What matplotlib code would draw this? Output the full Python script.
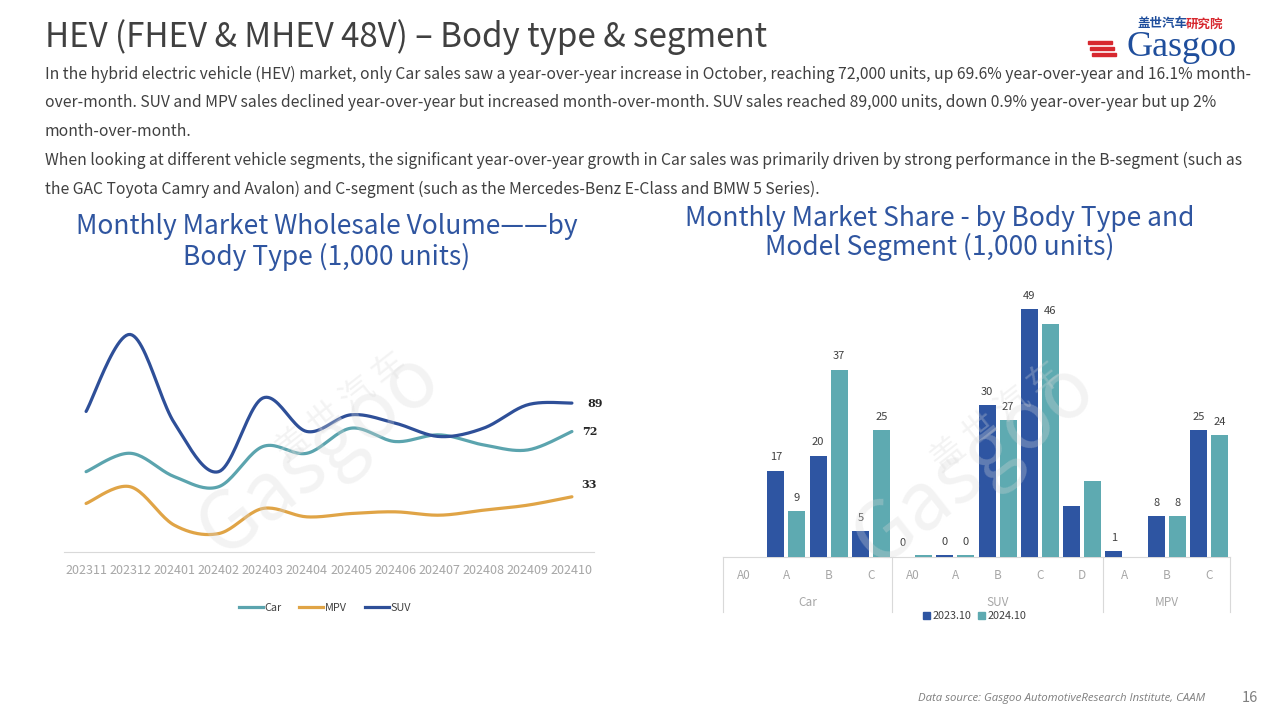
import numpy as np
import matplotlib
matplotlib.use('Agg')
import matplotlib.pyplot as plt
from matplotlib.lines import Line2D
from matplotlib.patches import Patch, Rectangle

plt.rcParams['font.family'] = ['Noto Sans CJK SC', 'DejaVu Sans']

# ---------------- data ----------------
months = ['202311', '202312', '202401', '202402', '202403', '202404',
          '202405', '202406', '202407', '202408', '202409', '202410']
car = [48, 59, 45, 39, 63, 59, 74, 66, 70, 64, 61, 72]
mpv = [29, 39, 16, 11, 26, 21, 23, 24, 22, 25, 28, 33]
suv = [84, 130, 77, 48, 92, 72, 82, 77, 69, 74, 88, 89]

segments = ['A0', 'A', 'B', 'C', 'A0', 'A', 'B', 'C', 'D', 'A', 'B', 'C']
groups = ['Car', 'SUV', 'MPV']
group_sizes = [4, 5, 3]
vol_2023 = [np.nan, 17, 20, 5, 0, 0.3, 30, 49, 10, 1, 8, 25]
vol_2024 = [np.nan, 9, 37, 25, 0.3, 0.3, 27, 46, 15, np.nan, 8, 24]
labels_2023 = ['', '17', '20', '5', '0', '0', '30', '49', '', '1', '8', '25']
labels_2024 = ['', '9', '37', '25', '', '0', '27', '46', '', '', '8', '24']

# ---------------- styles ----------------
C_CAR = '#5BA4AE'
C_MPV = '#E0A446'
C_SUV = '#2E4F98'
C_23 = '#2E55A2'
C_24 = '#5EAAB1'
TITLE_BLUE = '#2F55A0'
GREY_TXT = '#A6A6A6'
DARK = '#404040'

W, H = 1280, 720
fig = plt.figure(figsize=(12.8, 7.2), dpi=100)


def fx(px):
    return px / W


def fy(py):
    return 1 - py / H


# ---------------- header ----------------
fig.text(fx(45), fy(37), 'HEV (FHEV & MHEV 48V) \u2013 Body type & segment',
         fontsize=23.8, color=DARK, va='center', ha='left')

body = [
    'In the hybrid electric vehicle (HEV) market, only Car sales saw a year-over-year increase in October, reaching 72,000 units, up 69.6% year-over-year and 16.1% month-',
    'over-month. SUV and MPV sales declined year-over-year but increased month-over-month. SUV sales reached 89,000 units, down 0.9% year-over-year but up 2%',
    'month-over-month.',
    'When looking at different vehicle segments, the significant year-over-year growth in Car sales was primarily driven by strong performance in the B-segment (such as',
    'the GAC Toyota Camry and Avalon) and C-segment (such as the Mercedes-Benz E-Class and BMW 5 Series).',
]
for i, line in enumerate(body):
    fig.text(fx(45), fy(74 + i * 28.9), line, fontsize=11.3, color=DARK,
             va='center', ha='left')

# logo
fig.text(fx(1138), fy(24), '盖世汽车', fontsize=9, color='#1F4E9C',
         fontweight='bold', va='center', ha='left')
fig.text(fx(1186), fy(24), '研究院', fontsize=9, color='#D7282F',
         fontweight='bold', va='center', ha='left')
fig.text(fx(1237), fy(47), 'Gasgoo', fontsize=26, color='#1F4E9C',
         family='Liberation Serif', va='center', ha='right')
for k in range(3):
    fig.patches.append(Rectangle((fx(1088 + k * 2), fy(44 + k * 6)), fx(24), 3.5 / H,
                                 transform=fig.transFigure, color='#D7282F'))

# footer
fig.text(fx(1205), fy(698), 'Data source: Gasgoo AutomotiveResearch Institute, CAAM',
         fontsize=8.2, color='#7F7F7F', style='italic', family='Open Sans',
         va='center', ha='right')
fig.text(fx(1250), fy(698), '16', fontsize=10.5, color='#7F7F7F',
         va='center', ha='center')

# chart titles
fig.text(fx(327), fy(242), 'Monthly Market Wholesale Volume\u2014\u2014by\nBody Type (1,000 units)',
         fontsize=19, color=TITLE_BLUE, ha='center', va='center', linespacing=1.12)
fig.text(fx(940), fy(233), 'Monthly Market Share - by Body Type and\nModel Segment (1,000 units)',
         fontsize=19, color=TITLE_BLUE, ha='center', va='center', linespacing=1.08)

# watermarks
for cx, cy in [(320, 455), (975, 465)]:
    fig.text(fx(cx), fy(cy), 'Gasgoo', fontsize=58, color='#D9D9D9', alpha=0.3,
             rotation=38, ha='center', va='center', zorder=0)
    fig.text(fx(cx + 22), fy(cy - 48), '盖 世 汽 车', fontsize=24, color='#D9D9D9', alpha=0.3,
             rotation=38, ha='center', va='center', zorder=0)


# ---------------- left chart ----------------
def smooth(x, y, n=24):
    pts = np.column_stack([x, y]).astype(float)
    out = []
    for i in range(len(pts) - 1):
        p0 = pts[max(i - 1, 0)]
        p1 = pts[i]
        p2 = pts[i + 1]
        p3 = pts[min(i + 2, len(pts) - 1)]
        c1 = p1 + (p2 - p0) / 6
        c2 = p2 - (p3 - p1) / 6
        t = np.linspace(0, 1, n)[:, None]
        seg = (1 - t) ** 3 * p1 + 3 * (1 - t) ** 2 * t * c1 + 3 * (1 - t) * t ** 2 * c2 + t ** 3 * p2
        out.append(seg if i == 0 else seg[1:])
    return np.vstack(out)


ax1 = fig.add_axes([fx(64), fy(552), fx(530), (552 - 301) / H])
ax1.patch.set_alpha(0)
xs = np.arange(len(months))
series = [('Car', car, C_CAR, (7, 0)), ('MPV', mpv, C_MPV, (7, 9)), ('SUV', suv, C_SUV, (11, 0))]
for name, vals, col, off in series:
    c = smooth(xs, vals)
    ax1.plot(c[:, 0], c[:, 1], color=col, lw=2.3, solid_capstyle='round', zorder=3)
    ax1.annotate(f'{vals[-1]:.0f}', (xs[-1], vals[-1]), xytext=off,
                 textcoords='offset points', ha='left', va='center',
                 fontsize=8, fontweight='bold', color='#262626', family='DejaVu Serif')
ax1.set_xlim(-0.5, len(months) - 0.5)
ax1.set_ylim(0, 150)
ax1.set_yticks([])
ax1.set_xticks(xs)
ax1.set_xticklabels(months, fontsize=9, color=GREY_TXT)
ax1.tick_params(axis='x', length=0, pad=9)
for s in ['top', 'right', 'left']:
    ax1.spines[s].set_visible(False)
ax1.spines['bottom'].set_color('#D9D9D9')

handles1 = [Line2D([0], [0], color=col, lw=2.3) for _, _, col, _ in series]
fig.legend(handles1, [s[0] for s in series], loc='center', bbox_to_anchor=(fx(325), fy(608)),
           ncol=3, frameon=False, fontsize=7.8, handlelength=2.2, columnspacing=1.6,
           handletextpad=0.2, labelcolor=DARK)

# ---------------- right chart ----------------
ax2 = fig.add_axes([fx(723), fy(556.5), fx(507), (556.5 - 290) / H])
ax2.patch.set_alpha(0)
pos = np.arange(len(segments))
bw = 0.40
off = 0.248
ax2.bar(pos - off, vol_2023, bw, color=C_23, zorder=3)
ax2.bar(pos + off, vol_2024, bw, color=C_24, zorder=3)
for i in range(len(segments)):
    for dx, v, lab in [(-off, vol_2023[i], labels_2023[i]), (off, vol_2024[i], labels_2024[i])]:
        if lab:
            ax2.annotate(lab, (pos[i] + dx, 0 if np.isnan(v) else v), xytext=(0, 9.5),
                         textcoords='offset points', ha='center', va='center',
                         fontsize=8, color=DARK)
ax2.set_xlim(-0.5, len(segments) - 0.5)
ax2.set_ylim(0, (556.5 - 290) / 5.05)
ax2.set_yticks([])
ax2.set_xticks(pos)
ax2.set_xticklabels(segments, fontsize=8.5, color=GREY_TXT)
ax2.tick_params(axis='x', length=0, pad=9)
for s in ['top', 'right', 'left']:
    ax2.spines[s].set_visible(False)
ax2.spines['bottom'].set_color('#D9D9D9')

trans = ax2.get_xaxis_transform()
ax_h = 556.5 - 290
bounds = np.concatenate([[0], np.cumsum(group_sizes)]) - 0.5
for b in bounds:
    ax2.plot([b, b], [0, -(612 - 556.5) / ax_h], transform=trans, color='#D9D9D9',
             lw=0.8, clip_on=False)
for g, a, b in zip(groups, bounds[:-1], bounds[1:]):
    ax2.text((a + b) / 2, -(603 - 556.5) / ax_h, g, transform=trans, ha='center',
             va='center', fontsize=8.5, color=GREY_TXT)

handles2 = [Patch(color=C_23), Patch(color=C_24)]
fig.legend(handles2, ['2023.10', '2024.10'], loc='center', bbox_to_anchor=(fx(975), fy(616)),
           ncol=2, frameon=False, fontsize=7.8, handlelength=0.6, handleheight=0.6,
           columnspacing=0.6, handletextpad=0.3, labelcolor=DARK)

fig.savefig('out.png', dpi=100)
